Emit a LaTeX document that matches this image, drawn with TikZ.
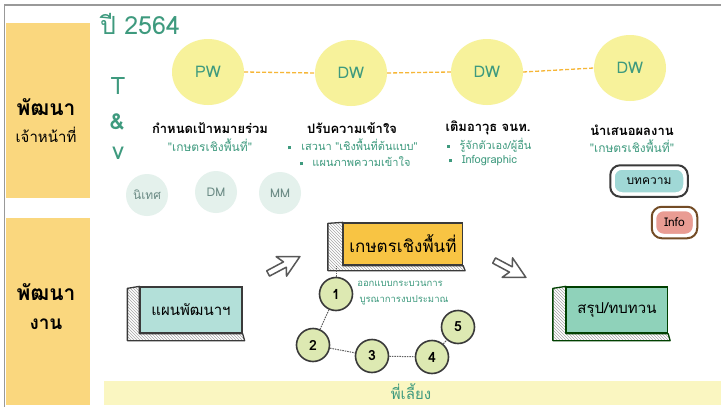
\documentclass[tikz,border=0pt]{standalone}
\usepackage{fontspec}
\newfontfamily\thai[Script=Thai]{Loma}
\usetikzlibrary{patterns,shapes.geometric}
\definecolor{band}{HTML}{FAD77E}
\definecolor{tealt}{HTML}{3E9A7E}
\definecolor{bigc}{HTML}{F7F29B}
\definecolor{dashor}{HTML}{F6B637}
\definecolor{lightc}{HTML}{E4F1EC}
\definecolor{boxA}{HTML}{B3E0D9}
\definecolor{boxY}{HTML}{F8C443}
\definecolor{boxG}{HTML}{8FD2BA}
\definecolor{numc}{HTML}{DDE9B2}
\definecolor{pillA}{HTML}{A0D8D6}
\definecolor{pillB}{HTML}{E99C93}
\definecolor{botband}{HTML}{FAF6C1}
\definecolor{edge}{HTML}{3A3A3A}
\definecolor{greyt}{HTML}{6A8A84}
\newcommand{\sqbul}{\textcolor{tealt}{\rule[0.25ex]{3pt}{3pt}}}
\tikzset{
  bigcirc/.style={ellipse,fill=bigc,minimum width=72,minimum height=66,inner sep=0,text=tealt,font=\thai\fontsize{16}{18}\selectfont},
  smallcirc/.style={circle,fill=lightc,minimum size=42,inner sep=0,text=greyt,font=\thai\fontsize{12}{14}\selectfont},
  title/.style={font=\thai\bfseries\fontsize{13}{15}\selectfont,text=black},
  sub/.style={font=\thai\fontsize{12}{14}\selectfont,text=tealt},
  bul/.style={font=\thai\fontsize{11}{13}\selectfont,text=tealt},
  orline/.style={dashor,line width=1.3,dash pattern=on 4pt off 2pt},
  slabface/.style={draw=edge,line width=1.3,inner sep=0,font=\thai\fontsize{15}{17}\selectfont},
  slabside/.style={draw=edge,line width=1.3,line join=round,pattern=north west lines,pattern color=edge!45},
  numc/.style={circle,draw=edge,line width=1.6,fill=numc,minimum size=33,inner sep=0,font=\thai\bfseries\fontsize{14}{16}\selectfont},
  numdash/.style={edge!80,line width=1,dash pattern=on 1.5pt off 1pt},
  sketcharrow/.style={draw=edge!85,line width=1.5,line join=round,fill=white},
  pill/.style={rounded corners=8,draw=white,line width=1.5,inner xsep=7,inner ysep=4,font=\thai\fontsize{12}{14}\selectfont},
  pillframe/.style={rounded corners=10,line width=2},
  note/.style={text=tealt,font=\thai\fontsize{9.5}{11}\selectfont}
}
\begin{document}
\begin{tikzpicture}[x=1pt,y=-1pt,font=\thai]
\useasboundingbox (0,0) rectangle (721,407);
\fill[white] (0,0) rectangle (721,407);
\draw[gray!80,line width=1.2] (4.5,407) -- (4.5,5) -- (721,5);

% left bands
\node[fill=band,minimum width=84,minimum height=175,inner sep=0,anchor=north west] (band1) at (6,23) {};
\node[fill=band,minimum width=84,minimum height=187,inner sep=0,anchor=north west] (band2) at (6,218) {};
\node[font=\thai\bfseries\fontsize{21}{23}\selectfont] (b1a) at (46,107) {พัฒนา};
\node[font=\thai\fontsize{15}{17}\selectfont] (b1b) at (46,135) {เจ้าหน้าที่};
\node[font=\thai\bfseries\fontsize{21}{23}\selectfont] (b2a) at (46,292) {พัฒนา};
\node[font=\thai\bfseries\fontsize{19}{21}\selectfont] (b2b) at (46,324) {งาน};

% bottom band
\node[fill=botband,minimum width=617,minimum height=24,inner sep=0,anchor=north west] (band3) at (104,381) {};
\node[text=tealt,font=\thai\fontsize{15}{17}\selectfont] (mentor) at (411,392) {พี่เลี้ยง};

% year and T & V
\node[text=tealt,font=\thai\fontsize{25}{27}\selectfont] (year) at (140,24) {ปี 2564};
\node[text=tealt,font=\thai\fontsize{24}{26}\selectfont] (tT) at (118,86) {T};
\node[text=tealt,font=\thai\bfseries\fontsize{22}{24}\selectfont] (tA) at (117,122) {\&};
\node[text=tealt,font=\thai\fontsize{24}{26}\selectfont] (tV) at (118,153) {v};

% big circles
\node[bigcirc] (pw) at (208,72) {PW};
\node[bigcirc] (dw1) at (351,73) {DW};
\node[bigcirc] (dw2) at (487,72) {DW};
\node[bigcirc] (dw3) at (630,68) {DW};
\draw[orline] (pw.east) -- (dw1.west);
\draw[orline] (dw1.east) -- (dw2.west);
\draw[orline] (dw2.east) -- (dw3.west);

% captions
\node[title] (c1) at (210,128) {กำหนดเป้าหมายร่วม};
\node[sub] (c1s) at (210,145) {"เกษตรเชิงพื้นที่"};
\node[title] (c2) at (352,128) {ปรับความเข้าใจ};
\node[bul] (c2a) at (353,145) {\sqbul\hspace{0.9em}เสวนา "เชิงพื้นที่ต้นแบบ"};
\node[bul] (c2b) at (355,162) {\sqbul\hspace{0.9em}แผนภาพความเข้าใจ};
\node[title] (c3) at (488,128) {เติมอาวุธ จนท.};
\node[bul] (c3a) at (489,145) {\sqbul\hspace{0.9em}รู้จักตัวเอง/ผู้อื่น};
\node[bul] (c3b) at (483,161) {\sqbul\hspace{0.9em}Infographic};
\node[title] (c4) at (632,130) {นำเสนอผลงาน};
\node[sub] (c4s) at (632,146) {"เกษตรเชิงพื้นที่"};

% small light circles
\node[smallcirc] (nt) at (147,195) {นิเทศ};
\node[smallcirc] (dm) at (216,192) {DM};
\node[smallcirc] (mm) at (280,193) {MM};

% pills
\node[pill,fill=pillA,minimum width=70,minimum height=24] (art) at (649,181) {บทความ};
\draw[pillframe,draw=edge] ([shift={(-3pt,3pt)}]art.north west) rectangle ([shift={(3pt,-3pt)}]art.south east);
\node[pill,fill=pillB,minimum width=38,minimum height=24,inner xsep=3] (info) at (674.5,222.5) {Info};
\draw[pillframe,draw=brown!60!black] ([shift={(-3pt,3pt)}]info.north west) rectangle ([shift={(3pt,-3pt)}]info.south east);

% slabs
\node[slabface,fill=boxA,minimum width=102,minimum height=46] (plan) at (191,310) {แผนพัฒนาฯ};
\draw[slabside] (plan.north west) -- ([shift={(-12pt,-2pt)}]plan.north west) -- ([shift={(-12pt,-7pt)}]plan.south west) -- ([shift={(2pt,-7pt)}]plan.south east) -- (plan.south east) -- (plan.south west) -- cycle;
\node[slabface,fill=boxA,minimum width=102,minimum height=46] at (plan) {แผนพัฒนาฯ};

\node[slabface,fill=boxY,minimum width=119,minimum height=42,font=\thai\fontsize{17}{19}\selectfont] (farm) at (403,244) {เกษตรเชิงพื้นที่};
\draw[slabside] (farm.north west) -- ([shift={(-15pt,-1pt)}]farm.north west) -- ([shift={(-15pt,-5pt)}]farm.south west) -- ([shift={(2pt,-5pt)}]farm.south east) -- (farm.south east) -- (farm.south west) -- cycle;
\node[slabface,fill=boxY,minimum width=119,minimum height=42,font=\thai\fontsize{17}{19}\selectfont] at (farm) {เกษตรเชิงพื้นที่};

\node[slabface,fill=boxG,minimum width=101,minimum height=46,draw=green!25!black] (sum) at (617,310) {สรุป/ทบทวน};
\draw[slabside,draw=green!25!black] (sum.north west) -- ([shift={(-13pt,-2pt)}]sum.north west) -- ([shift={(-13pt,-7pt)}]sum.south west) -- ([shift={(2pt,-7pt)}]sum.south east) -- (sum.south east) -- (sum.south west) -- cycle;
\node[slabface,fill=boxG,minimum width=101,minimum height=46,draw=green!25!black] at (sum) {สรุป/ทบทวน};

% sketch arrows
\begin{scope}[shift={(284,265)},rotate=28]
\draw[sketcharrow] (-18,-3) -- (1,-3) -- (-3,-11) -- (18,0) -- (-3,11) -- (1,3) -- (-18,3) -- cycle;
\end{scope}
\begin{scope}[shift={(510,269)},rotate=-28]
\draw[sketcharrow] (-18,-3) -- (1,-3) -- (-3,-11) -- (18,0) -- (-3,11) -- (1,3) -- (-18,3) -- cycle;
\end{scope}

% numbered circles
\node[numc] (n1) at (336,294) {1};
\node[numc] (n2) at (313,345) {2};
\node[numc] (n3) at (372,356) {3};
\node[numc] (n4) at (432,357) {4};
\node[numc] (n5) at (458,327) {5};
\draw[numdash] (n1.north) -- (n1.north |- farm.south);
\draw[numdash] (n1) -- (n2);
\draw[numdash] (n2) -- (n3);
\draw[numdash] (n3) -- (n4);
\draw[numdash] (n4) -- (n5);
\node[note] (d1) at (400,284) {ออกแบบกระบวนการ};
\node[note] (d2) at (404,300) {บูรณาการงบประมาณ};
\end{tikzpicture}
\end{document}
